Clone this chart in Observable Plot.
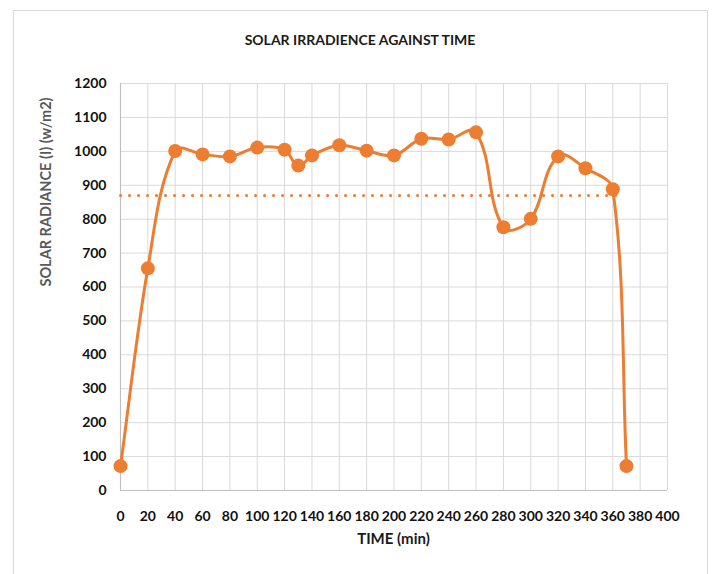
<!DOCTYPE html>
<html>
<head>
<meta charset="utf-8">
<script src="https://cdn.jsdelivr.net/npm/d3@7"></script>
<script src="https://cdn.jsdelivr.net/npm/@observablehq/plot@0.6"></script>
<style>
  html, body { margin: 0; padding: 0; background: #fff; }
  #wrap { position: relative; width: 713px; height: 574px; overflow: hidden; font-family: Lato, "Open Sans", sans-serif; }
  #border { position: absolute; left: 13px; top: 10px; width: 695px; height: 600px; border: 1px solid #d9d9d9; box-sizing: border-box; }
  #title { position: absolute; left: 0; width: 720px; top: 31px; text-align: center; font-weight: 700; font-size: 14px; color: #1a1a1a; }
  #xlab { position: absolute; left: 120px; width: 547px; top: 529px; text-align: center; font-weight: 700; font-size: 15px; color: #1a1a1a; }
  #ylab { position: absolute; left: 45px; top: 192px; transform: translate(-50%, -50%) rotate(-90deg); white-space: nowrap; font-weight: 700; font-size: 14.5px; color: #595959; }
  #chart { position: absolute; left: 0; top: 0; }
</style>
</head>
<body>
<div id="wrap">
  <div id="border"></div>
  <div id="chart"></div>
  <div id="title">SOLAR IRRADIENCE AGAINST TIME</div>
  <div id="xlab">TIME (min)</div>
  <div id="ylab">SOLAR RADIANCE (I) (w/m2)</div>
</div>
<script>
const times = [0, 20, 40, 60, 80, 100, 120, 130, 140, 160, 180, 200, 220, 240, 260, 280, 300, 320, 340, 360, 370];
const irradiance = [72, 655, 1001, 991, 985, 1011, 1005, 958, 988, 1018, 1002, 988, 1037, 1035, 1056, 776, 801, 985, 950, 888, 72];
const averageIrradiance = 870;
const averageSpan = [0, 368];
const xTicks = d3.range(0, 401, 20);
const yTicks = d3.range(0, 1201, 100);

const data = times.map((t, i) => ({ t, v: irradiance[i] }));
const avg = averageSpan.map(t => ({ t, v: averageIrradiance }));
const orange = "#ED7D31";

// Smoothing in the style of a spreadsheet "smoothed line": Bezier segments whose
// tangents follow the neighbouring points, with handle lengths proportional to each segment.
function SmoothCurve(context) { this._context = context; }
SmoothCurve.prototype = {
  areaStart() { this._line = 0; },
  areaEnd() { this._line = NaN; },
  lineStart() { this._pts = []; },
  point(x, y) { this._pts.push([+x, +y]); },
  lineEnd() {
    const p = this._pts, n = p.length, c = this._context;
    if (!n) return;
    c.moveTo(p[0][0], p[0][1]);
    if (n === 1) return;
    const dir = i => {
      const a = p[Math.max(0, i - 1)], b = p[Math.min(n - 1, i + 1)];
      const dx = b[0] - a[0], dy = b[1] - a[1], L = Math.hypot(dx, dy) || 1;
      return [dx / L, dy / L];
    };
    const dist = (a, b) => Math.hypot(b[0] - a[0], b[1] - a[1]);
    const k = 1 / 3;
    for (let i = 0; i < n - 1; i++) {
      const a = p[i], b = p[i + 1], d = dist(a, b);
      const ua = dir(i), ub = dir(i + 1);
      c.bezierCurveTo(a[0] + ua[0] * d * k, a[1] + ua[1] * d * k,
                      b[0] - ub[0] * d * k, b[1] - ub[1] * d * k,
                      b[0], b[1]);
    }
  }
};
const smooth = ctx => new SmoothCurve(ctx);

const chart = Plot.plot({
  width: 713,
  height: 574,
  marginLeft: 120,
  marginRight: 46,
  marginTop: 83,
  marginBottom: 84,
  style: { fontFamily: "Lato, 'Open Sans', sans-serif", fontSize: "14px", fontWeight: 700, color: "#111", background: "transparent" },
  x: { domain: [0, 400], ticks: xTicks, label: null, tickSize: 0 },
  y: { domain: [0, 1200], ticks: yTicks, label: null, tickSize: 0 },
  marks: [
    Plot.gridX(xTicks, { stroke: "#d9d9d9", strokeOpacity: 1, strokeWidth: 1 }),
    Plot.gridY(yTicks, { stroke: "#d9d9d9", strokeOpacity: 1, strokeWidth: 1 }),
    Plot.ruleX([0], { stroke: "#bfbfbf", strokeWidth: 1.2 }),
    Plot.ruleY([0], { stroke: "#bfbfbf", strokeWidth: 1.2 }),
    Plot.axisX({ ticks: xTicks, tickSize: 0, tickPadding: 21, label: null, fill: "#111", tickFormat: d => String(d) }),
    Plot.axisY({ ticks: yTicks, tickSize: 0, tickPadding: 14, label: null, fill: "#111", tickFormat: d => String(d) }),
    Plot.line(avg, { x: "t", y: "v", stroke: orange, strokeWidth: 3, strokeDasharray: "0.1 8.9", strokeLinecap: "round" }),
    Plot.line(data, { x: "t", y: "v", stroke: orange, strokeWidth: 3, curve: smooth }),
    Plot.dot(data, { x: "t", y: "v", r: 7, fill: orange, stroke: "none" })
  ]
});
document.getElementById("chart").appendChild(chart);
</script>
</body>
</html>
